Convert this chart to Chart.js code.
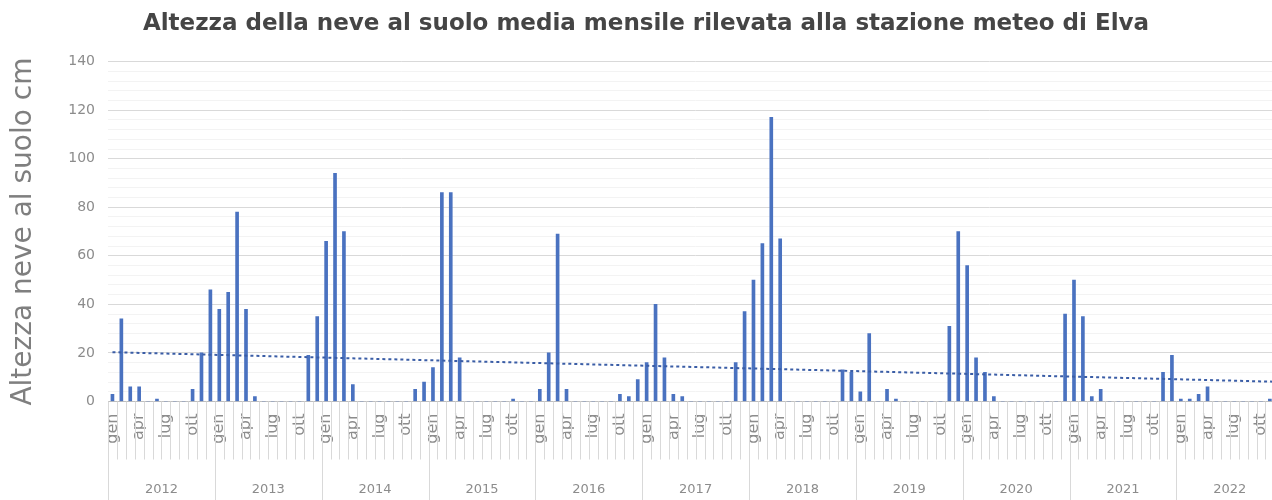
<!DOCTYPE html>
<html>
<head>
<meta charset="utf-8">
<script src="https://cdn.jsdelivr.net/npm/chart.js@4/dist/chart.umd.min.js"></script>
<style>
  html, body { margin: 0; padding: 0; background: #fff; overflow: hidden; }
  #wrap { width: 1302px; height: 500px; }
</style>
</head>
<body>
<div id="wrap"><canvas id="myChart" width="1302" height="500"></canvas></div>
<script>
// mesi (etichette) e anni
const monthNames = ['gen', 'feb', 'mar', 'apr', 'mag', 'giu', 'lug', 'ago', 'set', 'ott', 'nov', 'dic'];
const years = ['2012', '2013', '2014', '2015', '2016', '2017', '2018', '2019', '2020', '2021', '2022'];

// altezza media mensile della neve (cm)
const snow2012 = [3, 34, 6, 6, 0, 1, 0, 0, 0, 5, 20, 46];
const snow2013 = [38, 45, 78, 38, 2, 0, 0, 0, 0, 0, 19, 35];
const snow2014 = [66, 94, 70, 7, 0, 0, 0, 0, 0, 0, 5, 8];
const snow2015 = [14, 86, 86, 18, 0, 0, 0, 0, 0, 1, 0, 0];
const snow2016 = [5, 20, 69, 5, 0, 0, 0, 0, 0, 3, 2, 9];
const snow2017 = [16, 40, 18, 3, 2, 0, 0, 0, 0, 0, 16, 37];
const snow2018 = [50, 65, 117, 67, 0, 0, 0, 0, 0, 0, 13, 12];
const snow2019 = [4, 28, 0, 5, 1, 0, 0, 0, 0, 0, 31, 70];
const snow2020 = [56, 18, 12, 2, 0, 0, 0, 0, 0, 0, 0, 36];
const snow2021 = [50, 35, 2, 5, 0, 0, 0, 0, 0, 0, 12, 19];
const snow2022 = [1, 1, 3, 6, 0, 0, 0, 0, 0, 0, 1, 0];

// linea di tendenza: valore iniziale e finale
const trendStart = 20.3;
const trendEnd = 8.1;

const yTicks = [0, 20, 40, 60, 80, 100, 120, 140];

const snowByYear = [snow2012, snow2013, snow2014, snow2015, snow2016, snow2017,
  snow2018, snow2019, snow2020, snow2021, snow2022];

let labels = [];
let snow = [];
for (let y = 0; y < years.length; y++) {
  for (let m = 0; m < 12; m++) {
    labels.push(monthNames[m]);
    snow.push(snowByYear[y][m]);
  }
}
let trend = labels.map(() => null);
trend[0] = trendStart;
trend[trend.length - 1] = trendEnd;

// disegna le linee dei mesi, dei separatori anno e le etichette anno
const yearAxisPlugin = {
  id: 'yearAxis',
  afterDraw(chart) {
    const ctx = chart.ctx;
    const xs = chart.scales.x;
    const w = (xs.getPixelForValue(1) - xs.getPixelForValue(0));
    const top = chart.chartArea.bottom;
    ctx.save();
    ctx.lineWidth = 1;
    for (let i = 0; i <= labels.length; i++) {
      const x = Math.round(xs.getPixelForValue(0) - w / 2 + i * w) + 0.5;
      ctx.strokeStyle = '#d9d9d9';
      ctx.beginPath();
      ctx.moveTo(x, top);
      ctx.lineTo(x, i % 12 === 0 ? 500 : top + 58);
      ctx.stroke();
    }
    ctx.fillStyle = '#8c8c8c';
    ctx.font = '13px "DejaVu Sans"';
    ctx.textAlign = 'center';
    ctx.textBaseline = 'middle';
    for (let y = 0; y < years.length; y++) {
      const x = xs.getPixelForValue(0) - w / 2 + (y * 12 + 6) * w;
      ctx.fillText(years[y], x, 490);
    }
    ctx.restore();
  }
};

const config = {
  type: 'bar',
  data: {
    labels: labels,
    datasets: [{
      type: 'line',
      label: 'Tendenza',
      data: trend,
      spanGaps: true,
      borderColor: '#3a5da6',
      borderWidth: 2,
      borderDash: [3, 3],
      pointRadius: 0,
      fill: false,
      order: 0
    }, {
      label: 'Altezza neve al suolo cm',
      data: snow,
      backgroundColor: '#4a72c0',
      barThickness: 3,
      order: 1
    }]
  },
  plugins: [yearAxisPlugin],
  options: {
    responsive: false,
    animation: false,
    layout: { padding: { left: 0, right: 10, top: 0, bottom: 0 } },
    plugins: {
      legend: { display: false },
      tooltip: { enabled: false },
      title: {
        display: true,
        text: 'Altezza della neve al suolo media mensile rilevata alla stazione meteo di Elva',
        color: '#454545',
        font: { family: 'DejaVu Sans', size: 23, weight: 'bold' },
        padding: { top: 10, bottom: 24 }
      }
    },
    scales: {
      x: {
        offset: true,
        grid: { display: false },
        border: { display: true, color: '#bfbfbf' },
        ticks: {
          autoSkip: false,
          minRotation: 90,
          maxRotation: 90,
          padding: 4,
          color: '#8c8c8c',
          font: { family: 'DejaVu Sans', size: 16 },
          callback: function (value, index) {
            return index % 3 === 0 ? labels[index] : '';
          }
        },
        afterFit: function (scale) { scale.height = 98.5; }
      },
      y: {
        min: 0,
        max: 140,
        border: { display: false },
        grid: {
          drawTicks: false,
          color: function (ctx) {
            return yTicks.includes(ctx.tick.value) ? '#d9d9d9' : '#f3f3f3';
          }
        },
        ticks: {
          stepSize: 4,
          autoSkip: false,
          padding: 13,
          color: '#8c8c8c',
          font: { family: 'DejaVu Sans', size: 14 },
          callback: function (value) {
            return yTicks.includes(value) ? value : '';
          }
        },
        title: {
          display: true,
          text: 'Altezza neve al suolo cm',
          color: '#7f7f7f',
          font: { family: 'DejaVu Sans', size: 28 },
          padding: { top: 7, bottom: 0 }
        },
        afterFit: function (scale) { scale.width = 108; }
      }
    }
  }
};

const myChart = new Chart(document.getElementById('myChart'), config);
</script>
</body>
</html>
